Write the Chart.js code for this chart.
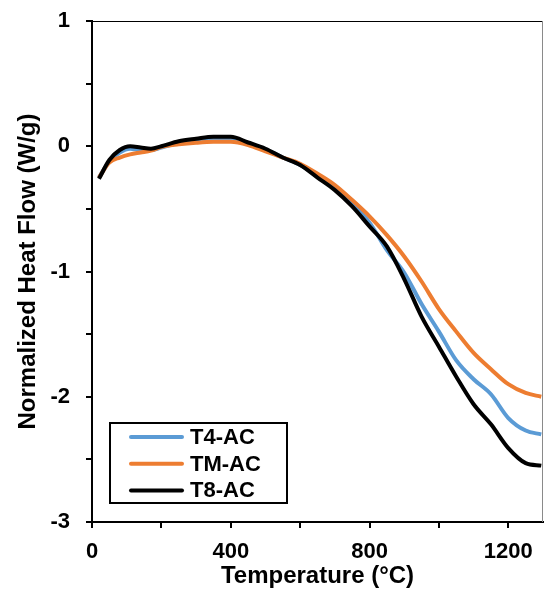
<!DOCTYPE html>
<html>
<head>
<meta charset="utf-8">
<script src="https://cdn.jsdelivr.net/npm/chart.js@4"></script>
<style>
  html, body { margin: 0; padding: 0; background: #fff; }
  #wrap { width: 544px; height: 590px; }
</style>
</head>
<body>
<div id="wrap"><canvas id="dscChart"></canvas></div>
<script>
// Temperature grid (°C) shared by the three curves
const temps = [20, 50, 80, 110, 140, 170, 200, 250, 300, 350, 400, 450, 500, 550, 600,
               650, 700, 750, 800, 850, 900, 950, 1000, 1050, 1100, 1150, 1200, 1250, 1295];

// Normalized heat flow (W/g)
const t4ac = [-0.25, -0.12, -0.05, -0.02, -0.03, -0.03, -0.01, 0.025, 0.045, 0.06, 0.065, 0.025, -0.025, -0.09, -0.15,
              -0.24, -0.34, -0.46, -0.61, -0.83, -1.01, -1.26, -1.48, -1.71, -1.86, -1.98, -2.17, -2.27, -2.30];
const tmac = [-0.25, -0.13, -0.09, -0.065, -0.05, -0.035, -0.005, 0.015, 0.028, 0.035, 0.035, 0.01, -0.04, -0.09, -0.14,
              -0.22, -0.31, -0.43, -0.56, -0.71, -0.88, -1.08, -1.30, -1.48, -1.65, -1.78, -1.90, -1.97, -2.00];
const t8ac = [-0.26, -0.11, -0.03, 0.0, -0.01, -0.02, 0.0, 0.04, 0.06, 0.076, 0.076, 0.03, -0.02, -0.09, -0.15,
              -0.25, -0.35, -0.48, -0.64, -0.80, -1.06, -1.36, -1.60, -1.84, -2.06, -2.22, -2.41, -2.53, -2.55];

const seriesNames = ['T4-AC', 'TM-AC', 'T8-AC'];
const seriesColors = ['#5B9BD5', '#ED7D31', '#000000'];

// x ticks every 200 with labels every 400; y ticks every 0.5 with labels on whole numbers
const xLabelStep = 400;

const FONT = "'Liberation Sans', Arial, sans-serif";

const toPoints = (vals) => temps.map((t, i) => ({ x: t, y: vals[i] }));

// box frame (top + right) and legend inside plot
const framePlugin = {
    id: 'frame',
    afterDraw: chart => {
        const { ctx, chartArea: a } = chart;
        ctx.save();
        ctx.strokeStyle = '#000';
        ctx.lineWidth = 1;
        ctx.beginPath();
        ctx.moveTo(a.left, a.top + 0.5);
        ctx.lineTo(a.right, a.top + 0.5);
        ctx.stroke();
        ctx.strokeStyle = '#8a8a8a';
        ctx.beginPath();
        ctx.moveTo(a.right - 0.5, a.top);
        ctx.lineTo(a.right - 0.5, a.bottom);
        ctx.stroke();

        // legend
        const bx = 110, by = 423, bw = 177, bh = 80;
        ctx.fillStyle = '#fff';
        ctx.fillRect(bx, by, bw, bh);
        ctx.strokeStyle = '#000';
        ctx.lineWidth = 2;
        ctx.strokeRect(bx, by, bw, bh);
        ctx.font = 'bold 22px ' + FONT;
        ctx.textBaseline = 'middle';
        ctx.textAlign = 'left';
        seriesNames.forEach((name, i) => {
            const y = by + 14 + i * 26.7;
            ctx.strokeStyle = seriesColors[i];
            ctx.lineWidth = 4;
            ctx.lineCap = 'round';
            ctx.beginPath();
            ctx.moveTo(131, y);
            ctx.lineTo(182, y);
            ctx.stroke();
            ctx.fillStyle = '#000';
            ctx.fillText(name, 190, y + 1);
        });
        ctx.restore();
    }
};

new Chart(document.getElementById('dscChart'), {
    type: 'line',
    data: {
        datasets: [
            { label: seriesNames[0], data: toPoints(t4ac), borderColor: seriesColors[0], order: 2 },
            { label: seriesNames[1], data: toPoints(tmac), borderColor: seriesColors[1], order: 1 },
            { label: seriesNames[2], data: toPoints(t8ac), borderColor: seriesColors[2], order: 0 }
        ]
    },
    options: {
        responsive: true,
        maintainAspectRatio: false,
        animation: false,
        layout: { padding: { top: 21, right: 1, left: 0, bottom: 0 } },
        elements: {
            line: { borderWidth: 4, tension: 0.4, cubicInterpolationMode: 'monotone', fill: false },
            point: { radius: 0 }
        },
        plugins: {
            legend: { display: false },
            tooltip: { enabled: false }
        },
        scales: {
            x: {
                type: 'linear',
                min: 0,
                max: 1300,
                afterFit: s => { s.height = 68; s.paddingRight = 0; },
                grid: { drawOnChartArea: false, tickLength: 6, color: '#000', lineWidth: 2 },
                border: { color: '#000', width: 2 },
                ticks: {
                    stepSize: 200,
                    includeBounds: false,
                    padding: 11,
                    maxRotation: 0,
                    autoSkip: false,
                    color: '#000',
                    font: { family: FONT, size: 22, weight: 'bold' },
                    callback: v => (v % xLabelStep === 0 ? String(v) : '')
                },
                title: {
                    display: true,
                    text: 'Temperature (°C)',
                    color: '#000',
                    padding: { top: 0, bottom: 0 },
                    font: { family: FONT, size: 24, weight: 'bold', lineHeight: 1.1 }
                }
            },
            y: {
                min: -3,
                max: 1,
                afterFit: s => { s.width = 92; s.paddingTop = 0; s.paddingBottom = 0; },
                grid: { drawOnChartArea: false, tickLength: 6, color: '#000', lineWidth: 2 },
                border: { color: '#000', width: 2 },
                ticks: {
                    stepSize: 0.5,
                    padding: 16,
                    autoSkip: false,
                    color: '#000',
                    font: { family: FONT, size: 22, weight: 'bold' },
                    callback: v => (Number.isInteger(v) ? String(v) : '')
                },
                title: {
                    display: true,
                    text: 'Normalized Heat Flow (W/g)',
                    color: '#000',
                    padding: { top: 15, bottom: 0 },
                    font: { family: FONT, size: 24, weight: 'bold', lineHeight: 1.1 }
                }
            }
        }
    },
    plugins: [framePlugin]
});
</script>
</body>
</html>
